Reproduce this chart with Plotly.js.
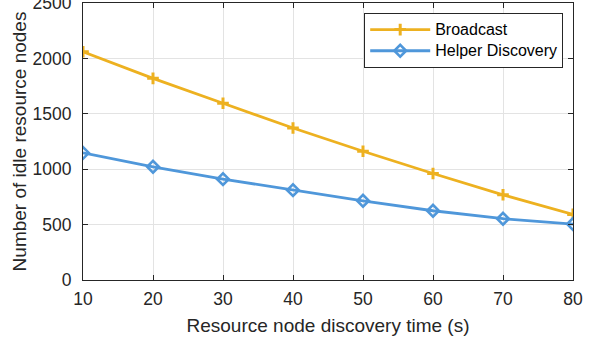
<!DOCTYPE html>
<html>
<head>
<meta charset="utf-8">
<script src="https://cdn.plot.ly/plotly-3.0.1.min.js"></script>
<style>html,body{margin:0;padding:0;background:#fff;}#chart{width:596px;height:339px;}</style>
</head>
<body>
<div id="chart"></div>
<script>
const discoveryTime = [10, 20, 30, 40, 50, 60, 70, 80];
const broadcast = [2060, 1820, 1595, 1372, 1162, 961, 769, 592];
const helperDiscovery = [1147, 1022, 910, 811, 715, 625, 553, 505];
const seriesNames = ["Broadcast", "Helper Discovery"];
const xTitle = "Resource node discovery time (s)";
const yTitle = "Number of idle resource nodes";

const font = "Liberation Sans, Arial, sans-serif";
const legendLabel = s => '<span style="font-size:16px">' + s + '</span>';
const traces = [
  {
    x: discoveryTime, y: broadcast, name: legendLabel(seriesNames[0]), type: "scatter", mode: "lines+markers",
    line: {color: "#EDB120", width: 2.8},
    marker: {symbol: "cross-thin", size: 8.3, color: "#EDB120", line: {color: "#EDB120", width: 3}}
  },
  {
    x: discoveryTime, y: helperDiscovery, name: legendLabel(seriesNames[1]), type: "scatter", mode: "lines+markers",
    line: {color: "#4F97DA", width: 2.8},
    marker: {symbol: "diamond-open", size: 9, color: "#4F97DA", line: {color: "#4F97DA", width: 2.6}}
  }
];
const axisCommon = {
  showgrid: true, gridcolor: "#e3e3e3", gridwidth: 1,
  showline: true, linecolor: "#262626", linewidth: 1, mirror: "ticks",
  ticks: "inside", ticklen: 5, tickcolor: "#262626", tickwidth: 1,
  zeroline: false, ticklabeloverflow: "allow",
  tickfont: {family: font, size: 17.5, color: "#262626"}
};
const layout = {
  width: 596, height: 339,
  margin: {l: 83, r: 23, t: 3, b: 59},
  paper_bgcolor: "#fff", plot_bgcolor: "#fff",
  font: {family: font, color: "#262626"},
  xaxis: Object.assign({}, axisCommon, {
    range: [10, 80], tickvals: discoveryTime,
    ticklabelstandoff: 3,
    title: {text: xTitle, font: {family: font, size: 19, color: "#262626"}, standoff: 10}
  }),
  yaxis: Object.assign({}, axisCommon, {
    range: [0, 2500], dtick: 500,
    ticklabelstandoff: 7,
    title: {text: yTitle, font: {family: font, size: 19, color: "#262626"}, standoff: 0}
  }),
  showlegend: true,
  legend: {
    x: 0.98, xanchor: "right", y: 0.964, yanchor: "top",
    bgcolor: "#fff", bordercolor: "#262626", borderwidth: 1,
    font: {family: font, size: 14, color: "#000"},
    itemwidth: 60, tracegroupgap: 0
  }
};
Plotly.newPlot("chart", traces, layout, {displayModeBar: false, staticPlot: true});
</script>
</body>
</html>
